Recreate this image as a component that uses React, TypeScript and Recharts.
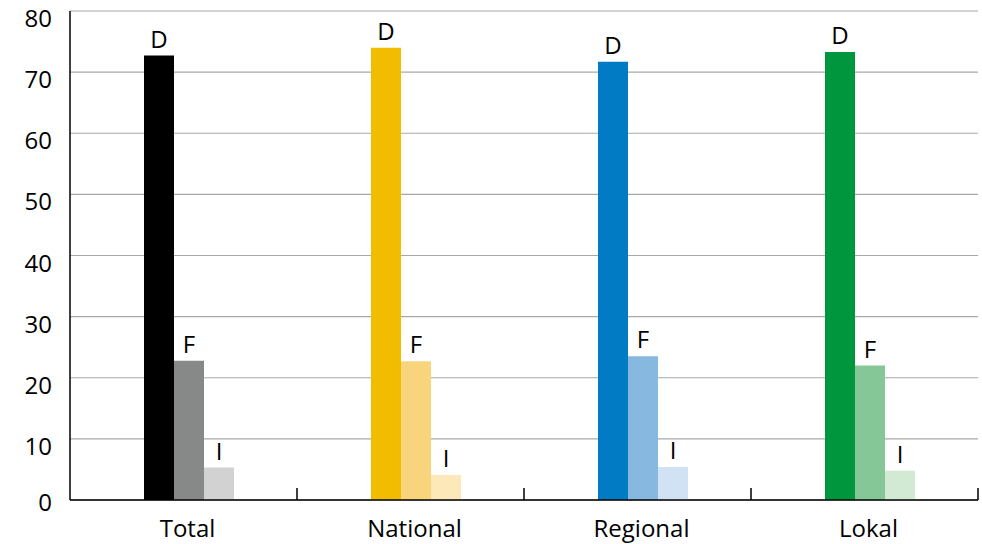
import React from 'react';
import { BarChart, Bar, XAxis, YAxis, CartesianGrid, Cell, LabelList, Rectangle } from 'recharts';

const categories = ['Total', 'National', 'Regional', 'Lokal'];
const dValues = [72.7, 74.0, 71.7, 73.3];
const fValues = [22.8, 22.7, 23.5, 22.0];
const iValues = [5.3, 4.1, 5.4, 4.8];
const yTicks = [0, 10, 20, 30, 40, 50, 60, 70, 80];

const dColors = ['#000000', '#f2bc00', '#007bc4', '#00963e'];
const fColors = ['#878888', '#f8d47c', '#87b8e0', '#86c797'];
const iColors = ['#d1d2d1', '#fde8b9', '#d0e2f3', '#d2ead4'];

const data = categories.map((name, i) => ({
  name,
  D: dValues[i],
  F: fValues[i],
  I: iValues[i],
}));

const FONT = '"Open Sans", "Noto Sans", sans-serif';
const PLOT_LEFT = 70;
const PLOT_RIGHT = 978;
const BAND = (PLOT_RIGHT - PLOT_LEFT) / categories.length;
// bar groups sit a little right of the band centre in the original
const SHIFT = 5;

const CategoryTick = (props: any) => {
  const { x, y, payload, index } = props;
  const left = x - BAND / 2;
  const right = x + BAND / 2;
  return (
    <g>
      {index > 0 && <line x1={left} x2={left} y1={y} y2={y - 12} stroke="#000" strokeWidth={1.5} />}
      {index === categories.length - 1 && (
        <line x1={right} x2={right} y1={y} y2={y - 12} stroke="#000" strokeWidth={1.5} />
      )}
      <text x={x + 4} y={y + 37} textAnchor="middle" fontSize={24} fill="#000" fontFamily={FONT}>
        {payload.value}
      </text>
    </g>
  );
};

const ValueTick = (props: any) => {
  const { x, y, payload } = props;
  const dy = payload.value === 0 ? 11 : 16;
  return (
    <text x={x - 16} y={y + dy} textAnchor="end" fontSize={24} fill="#000" fontFamily={FONT}>
      {payload.value}
    </text>
  );
};

const ShiftedBar = (props: any) => <Rectangle {...props} x={props.x + SHIFT} />;

const labelStyle = { fontSize: 24, fill: '#000', fontFamily: FONT };

export default function App() {
  return (
    <div style={{ position: 'absolute', left: 0, top: 0, background: '#fff' }}>
      <BarChart
        width={982}
        height={544}
        data={data}
        margin={{ top: 11, right: 4, bottom: 14, left: 0 }}
        barGap={0}
        barSize={30}
      >
        <CartesianGrid vertical={false} stroke="#a8a8a8" strokeWidth={1.2} />
        <XAxis
          dataKey="name"
          height={30}
          axisLine={{ stroke: '#000', strokeWidth: 1.5 }}
          tickLine={false}
          tickSize={0}
          tickMargin={0}
          tick={<CategoryTick />}
          interval={0}
        />
        <YAxis
          width={70}
          domain={[0, 80]}
          ticks={yTicks}
          axisLine={{ stroke: '#000', strokeWidth: 1.5 }}
          tickLine={false}
          tickSize={0}
          tick={<ValueTick />}
          interval={0}
        />
        <Bar dataKey="D" isAnimationActive={false} shape={ShiftedBar}>
          {data.map((_, i) => (
            <Cell key={`d-${i}`} fill={dColors[i]} />
          ))}
          <LabelList position="top" offset={8} dx={SHIFT} formatter={() => 'D'} style={labelStyle} />
        </Bar>
        <Bar dataKey="F" isAnimationActive={false} shape={ShiftedBar}>
          {data.map((_, i) => (
            <Cell key={`f-${i}`} fill={fColors[i]} />
          ))}
          <LabelList position="top" offset={8} dx={SHIFT} formatter={() => 'F'} style={labelStyle} />
        </Bar>
        <Bar dataKey="I" isAnimationActive={false} shape={ShiftedBar}>
          {data.map((_, i) => (
            <Cell key={`i-${i}`} fill={iColors[i]} />
          ))}
          <LabelList position="top" offset={8} dx={SHIFT} formatter={() => 'I'} style={labelStyle} />
        </Bar>
      </BarChart>
    </div>
  );
}
